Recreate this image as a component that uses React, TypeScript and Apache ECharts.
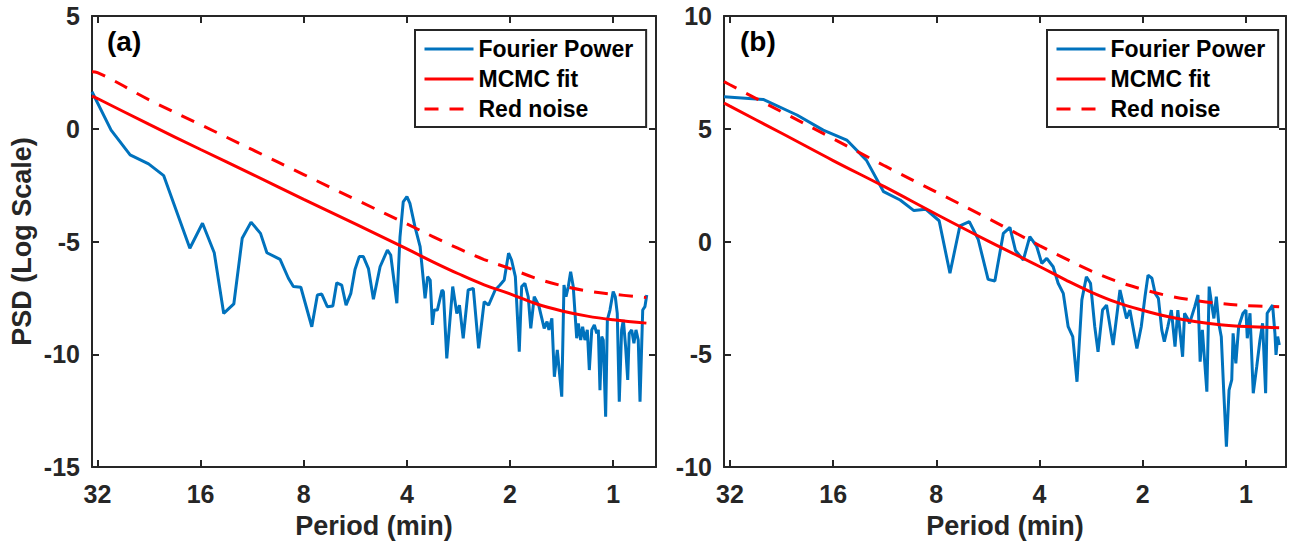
import React, { useEffect, useRef } from "react";
import * as echarts from "echarts";

const FONT = '"Liberation Sans", Arial, Helvetica, sans-serif';
const AXIS_COLOR = "#262626";
const BLUE = "#0072BD";
const RED = "#FF0000";

const seriesNames = ["Fourier Power", "MCMC fit", "Red noise"];
const panelLabels = ["(a)", "(b)"];
const xTitle = "Period (min)";
const yTitle = "PSD (Log Scale)";

// ---------- Panel (a) ----------
const fourierA_period = [
  33.2, 29.2, 25.7, 22.7, 20.5, 17.2, 15.8, 14.6, 13.7, 12.8, 12.1, 11.4, 10.7, 10.25, 9.38, 8.87, 8.58, 8.16,
  7.58, 7.3, 7.09, 6.83, 6.58, 6.41, 6.2, 6.02, 5.83, 5.67, 5.51, 5.36, 5.18, 5.01, 4.79, 4.56, 4.46, 4.28,
  4.19, 4.1, 4.0, 3.92, 3.79, 3.66, 3.54, 3.48, 3.42, 3.37, 3.33, 3.26, 3.16, 3.13, 3.06, 2.94, 2.86, 2.81,
  2.74, 2.65, 2.56, 2.47, 2.38, 2.31, 2.21, 2.14, 2.08, 2.02, 1.98, 1.93, 1.88, 1.85, 1.81, 1.77, 1.74, 1.7,
  1.65, 1.62, 1.59, 1.56, 1.54, 1.51, 1.485, 1.456, 1.413, 1.392, 1.373, 1.352, 1.331, 1.308, 1.278, 1.264,
  1.244, 1.228, 1.209, 1.19, 1.174, 1.155, 1.135, 1.117, 1.105, 1.093, 1.08, 1.069, 1.052, 1.04, 1.022, 1.0,
  0.986, 0.973, 0.96, 0.945, 0.934, 0.92, 0.907, 0.898, 0.883, 0.87, 0.858, 0.845, 0.835, 0.82, 0.808, 0.798,
];
const fourierA_psd = [
  1.64, -0.06, -1.16, -1.56, -2.08, -5.3, -4.19, -5.5, -8.19, -7.77, -4.86, -4.14, -4.64, -5.5, -5.79, -6.63, -7.0, -7.03,
  -8.78, -7.37, -7.33, -7.89, -7.86, -6.83, -6.93, -7.82, -7.3, -6.24, -5.67, -5.67, -6.2, -7.56, -6.12, -5.38, -5.6, -7.74,
  -4.79, -3.24, -3.01, -3.31, -4.34, -5.23, -7.52, -6.56, -6.71, -8.7, -8.04, -8.04, -7.15, -7.23, -10.18, -7.0, -8.19, -7.82,
  -9.29, -7.15, -7.08, -9.74, -7.67, -7.82, -7.15, -6.93, -6.71, -5.52, -5.82, -6.56, -9.89, -7.0, -6.86, -7.45, -8.85, -7.45,
  -7.82, -8.33, -8.85, -8.55, -8.92, -8.41, -11.0, -9.81, -11.88, -6.93, -7.45, -7.0, -6.34, -7.0, -9.29, -8.63,
  -9.37, -8.78, -9.37, -8.92, -10.7, -8.92, -8.7, -9.07, -8.92, -11.59, -9.22, -9.37, -12.77, -8.48, -8.04, -7.22,
  -7.45, -8.19, -12.1, -8.92, -8.48, -9.66, -11.14, -9.07, -8.92, -9.51, -8.92, -9.37, -12.1, -8.04, -7.89, -7.37,
];
const fitA_period = [33.2, 32, 22.6, 16, 11.3, 8, 5.66, 4, 3.36, 2.83, 2.38, 2, 1.68, 1.41, 1.19, 1, 0.8];
const mcmcA = [1.45, 1.34, 0.19, -0.92, -2.02, -3.13, -4.22, -5.33, -5.9, -6.43, -6.92, -7.32, -7.76, -8.08, -8.31, -8.47, -8.62];
const redNoiseA = [2.53, 2.49, 1.28, 0.18, -0.93, -2.03, -3.13, -4.22, -4.78, -5.31, -5.8, -6.2, -6.63, -6.96, -7.19, -7.34, -7.48];

// ---------- Panel (b) ----------
const fourierB_period = [
  33.3, 25.6, 20.4, 17.1, 14.6, 12.8, 11.4, 10.2, 9.3, 8.58, 7.85, 7.3, 6.83, 6.41, 6.04, 5.65, 5.4, 5.1, 4.88,
  4.7, 4.46, 4.27, 4.08, 3.94, 3.81, 3.65, 3.53, 3.41, 3.3, 3.2, 3.11, 3.01, 2.92, 2.84, 2.76, 2.7, 2.62, 2.55,
  2.49, 2.44, 2.33, 2.23, 2.18, 2.08, 2.02, 1.97, 1.93, 1.88, 1.84, 1.8, 1.76, 1.73, 1.69, 1.65, 1.61, 1.58,
  1.53, 1.51, 1.48, 1.46, 1.41, 1.38, 1.36, 1.34, 1.3, 1.28, 1.26, 1.24, 1.22, 1.2, 1.18, 1.16, 1.14, 1.12,
  1.1, 1.09, 1.07, 1.05, 1.02, 1.0, 0.991, 0.973, 0.952, 0.93, 0.91, 0.894, 0.876, 0.867, 0.836, 0.823, 0.817,
  0.808, 0.799,
];
const fourierB_psd = [
  6.42, 6.3, 5.61, 4.94, 4.5, 3.61, 2.21, 1.84, 1.37, 1.43, 0.92, -1.41, 0.69, 0.88, 0.1, -1.68, -1.75, 0.36, 0.63,
  -0.4, -0.82, 0.22, -0.2, -0.97, -0.75, -1.12, -1.85, -2.3, -3.78, -4.22, -6.22, -2.59, -1.56, -1.85, -3.78, -4.89, -3.04, -2.82,
  -3.78, -4.59, -2.15, -3.41, -3.04, -4.74, -3.78, -2.45, -1.49, -1.63, -2.3, -2.52, -3.92, -4.44, -3.78, -3.04, -4.66, -3.04,
  -5.11, -3.18, -3.41, -3.63, -2.89, -2.37, -5.33, -3.92, -6.66, -2.0, -2.74, -3.41, -2.45, -3.63, -4.22, -6.73, -9.1, -6.59,
  -6.14, -4.07, -5.4, -3.78, -3.18, -3.04, -4.29, -3.18, -6.73, -5.55, -4.37, -3.63, -6.73, -3.18, -2.82, -4.07, -5.03,
  -4.22, -4.59,
];
const fitB_period = [33.3, 32, 22.6, 16, 11.3, 8, 5.66, 4, 3.36, 2.83, 2.38, 2, 1.68, 1.41, 1.19, 1, 0.8];
const mcmcB = [6.14, 6.0, 4.8, 3.59, 2.42, 1.21, 0.03, -1.11, -1.7, -2.24, -2.7, -3.05, -3.34, -3.55, -3.69, -3.77, -3.82];
const redNoiseB = [7.09, 6.95, 5.75, 4.56, 3.35, 2.19, 1.03, -0.18, -0.76, -1.3, -1.76, -2.12, -2.41, -2.61, -2.75, -2.84, -2.89];

const zip = (xs: number[], ys: number[]) => xs.map((x, i) => [x, ys[i]]);

const grids = [
  { left: 92, top: 16, width: 564, height: 451 },
  { left: 724, top: 16, width: 562, height: 451 },
];
const xRanges = [
  [0.75, 33.2],
  [0.764, 33.3],
];
const yRanges = [
  [-15, 5],
  [-10, 10],
];

const labelStyle = {
  fontSize: 25,
  fontWeight: "bold" as const,
  fontFamily: FONT,
  color: AXIS_COLOR,
};
const titleStyle = {
  fontSize: 27,
  fontWeight: "bold" as const,
  fontFamily: FONT,
  color: AXIS_COLOR,
};

function xAxis(gi: number, position: "top" | "bottom") {
  const bottom = position === "bottom";
  return {
    type: "log",
    logBase: 2,
    gridIndex: gi,
    position,
    inverse: true,
    min: xRanges[gi][0],
    max: xRanges[gi][1],
    splitNumber: 6,
    name: bottom ? xTitle : "",
    nameLocation: "middle",
    nameGap: 45,
    nameTextStyle: titleStyle,
    axisLine: { show: true, onZero: false, lineStyle: { color: AXIS_COLOR, width: 2 } },
    axisTick: { show: true, inside: true, length: 7, lineStyle: { color: AXIS_COLOR, width: 2 } },
    minorTick: { show: false },
    splitLine: { show: false },
    axisLabel: {
      show: bottom,
      showMinLabel: false,
      showMaxLabel: false,
      margin: 14,
      ...labelStyle,
      formatter: (v: number) => String(Math.round(v * 1000) / 1000),
    },
  };
}

function yAxis(gi: number, position: "left" | "right") {
  const left = position === "left";
  return {
    type: "value",
    gridIndex: gi,
    position,
    min: yRanges[gi][0],
    max: yRanges[gi][1],
    interval: 5,
    name: left && gi === 0 ? yTitle : "",
    nameLocation: "middle",
    nameGap: 57,
    nameTextStyle: titleStyle,
    axisLine: { show: true, onZero: false, lineStyle: { color: AXIS_COLOR, width: 2 } },
    axisTick: { show: true, inside: true, length: 7, lineStyle: { color: AXIS_COLOR, width: 2 } },
    splitLine: { show: false },
    axisLabel: { show: left, margin: 12, ...labelStyle },
  };
}

function panelSeries(gi: number, fp: number[], fv: number[], cp: number[], mc: number[], rn: number[]) {
  const axes = { xAxisIndex: gi * 2, yAxisIndex: gi * 2 };
  return [
    {
      name: seriesNames[0],
      type: "line",
      ...axes,
      data: zip(fp, fv),
      symbol: "none",
      lineStyle: { color: BLUE, width: 3 },
      itemStyle: { color: BLUE },
      z: 2,
    },
    {
      name: seriesNames[1],
      type: "line",
      ...axes,
      data: zip(cp, mc),
      symbol: "none",
      smooth: 0.4,
      lineStyle: { color: RED, width: 3 },
      itemStyle: { color: RED },
      z: 3,
    },
    {
      name: seriesNames[2],
      type: "line",
      ...axes,
      data: zip(cp, rn),
      symbol: "none",
      smooth: 0.4,
      lineStyle: { color: RED, width: 3, type: [14, 11] },
      itemStyle: { color: RED },
      z: 3,
    },
  ];
}

function legend(left: number) {
  return {
    orient: "vertical",
    left,
    top: 30,
    data: seriesNames,
    itemWidth: 49,
    itemHeight: 14,
    itemGap: 6,
    padding: [7, 13, 6, 8],
    borderColor: AXIS_COLOR,
    borderWidth: 2,
    borderRadius: 0,
    backgroundColor: "#ffffff",
    selectedMode: false,
    itemStyle: { opacity: 0 },
    lineStyle: { width: 3 },
    textStyle: { fontSize: 23, fontWeight: "bold", fontFamily: FONT, color: "#000", lineHeight: 24 },
    z: 10,
  };
}

export default function App() {
  const ref = useRef<HTMLDivElement>(null);
  useEffect(() => {
    if (!ref.current) return;
    const chart = echarts.init(ref.current, undefined, { renderer: "svg" });
    chart.setOption({
      animation: false,
      backgroundColor: "#ffffff",
      grid: grids.map((g) => ({ ...g, containLabel: false })),
      xAxis: [xAxis(0, "bottom"), xAxis(0, "top"), xAxis(1, "bottom"), xAxis(1, "top")],
      yAxis: [yAxis(0, "left"), yAxis(0, "right"), yAxis(1, "left"), yAxis(1, "right")],
      legend: [legend(415), legend(1047)],
      series: [
        ...panelSeries(0, fourierA_period, fourierA_psd, fitA_period, mcmcA, redNoiseA),
        ...panelSeries(1, fourierB_period, fourierB_psd, fitB_period, mcmcB, redNoiseB),
      ],
      graphic: [
        {
          type: "text",
          left: 107,
          top: 27,
          style: { text: panelLabels[0], fontSize: 28, fontWeight: "bold", fontFamily: FONT, fill: "#000" },
        },
        {
          type: "text",
          left: 740,
          top: 27,
          style: { text: panelLabels[1], fontSize: 28, fontWeight: "bold", fontFamily: FONT, fill: "#000" },
        },
      ],
    });
    return () => chart.dispose();
  }, []);
  return (
    <div
      ref={ref}
      style={{ position: "absolute", left: 0, top: 0, width: 1296, height: 546, background: "#fff" }}
    />
  );
}
